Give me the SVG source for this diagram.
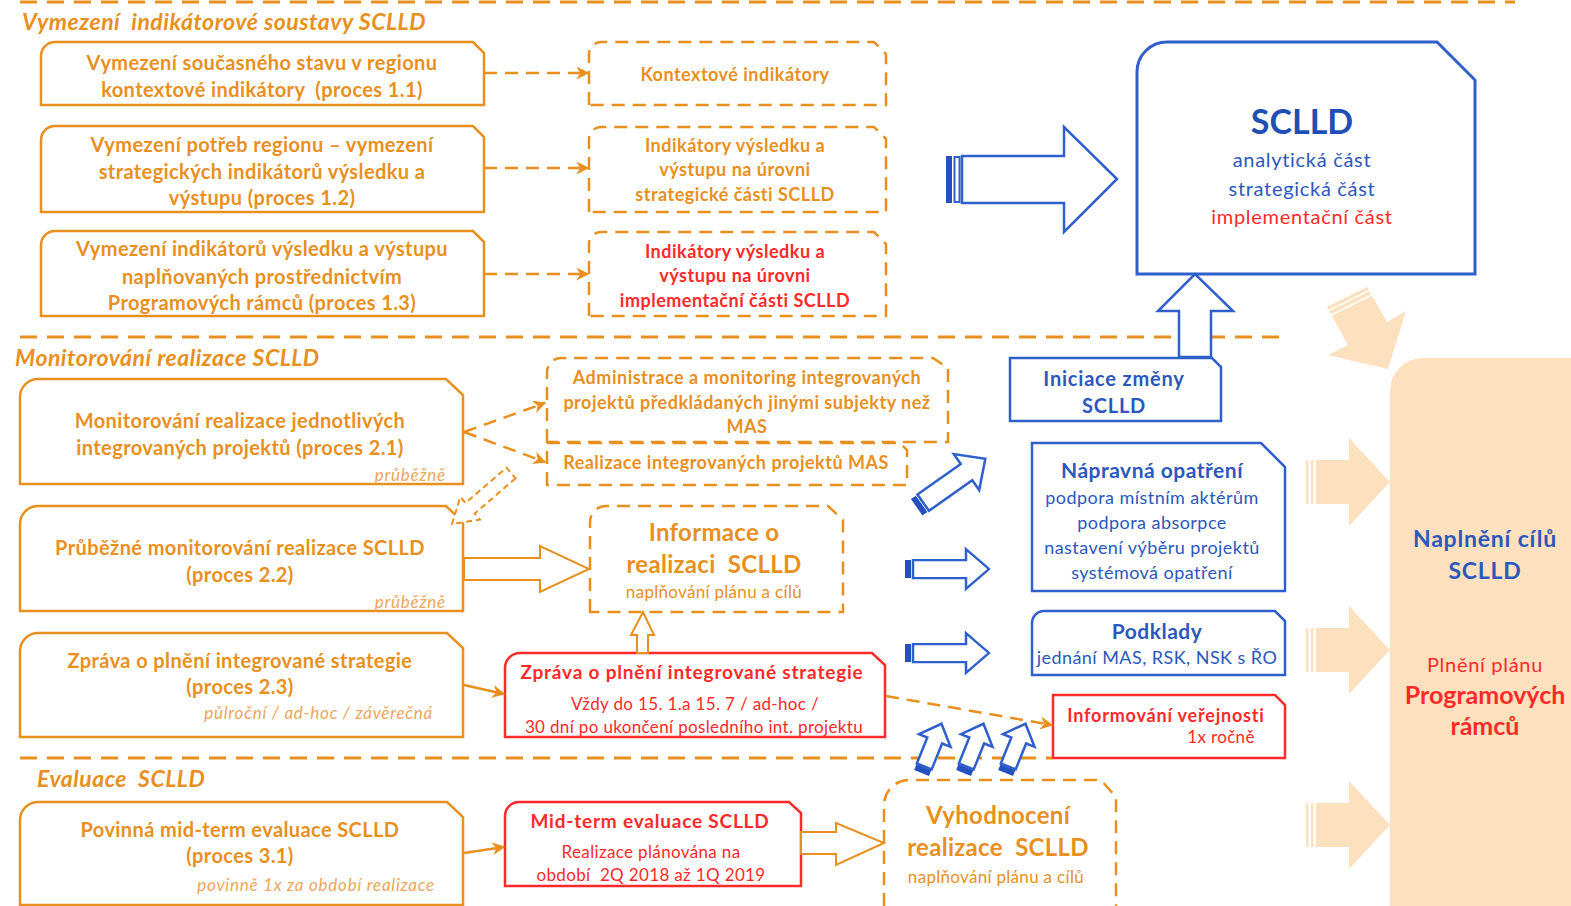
<svg xmlns="http://www.w3.org/2000/svg" width="1571" height="906" viewBox="0 0 1571 906">
<style>
text{font-family:Lato,"Liberation Sans",sans-serif;white-space:pre}
.bo{fill:none;stroke:#E8901F;stroke-width:2.5}
.bd{fill:none;stroke:#E8901F;stroke-width:2.5;stroke-dasharray:13 8}
.bb{fill:#fff;stroke:#2F5FCB;stroke-width:2.5}
.br{fill:#fff;stroke:#FF2A2A;stroke-width:2.5}
.sep{stroke:#E8901F;stroke-width:3;stroke-dasharray:17 10;fill:none}
.sec{font-size:23px;font-weight:bold;font-style:italic;fill:#E8901F;letter-spacing:0.5px}
.ob{font-size:20px;font-weight:bold;fill:#E8901F;text-anchor:middle;letter-spacing:0.4px}
.od{font-size:18px;font-weight:bold;fill:#E8901F;text-anchor:middle;letter-spacing:0.5px}
.rd{font-size:18px;font-weight:bold;fill:#FF2A2A;text-anchor:middle;letter-spacing:0.5px}
.it{font-size:17px;font-style:italic;fill:#EDA65E;text-anchor:end;letter-spacing:0.75px}
.big{font-size:24px;font-weight:bold;fill:#E8901F;text-anchor:middle;letter-spacing:0.3px}
.on{font-size:17px;fill:#E8901F;text-anchor:middle;letter-spacing:0.3px}
.rb{font-size:19px;font-weight:bold;fill:#FF2A2A;text-anchor:middle;letter-spacing:0.8px}
.rn{font-size:17px;fill:#FF2A2A;text-anchor:middle;letter-spacing:0.35px}
.ub{font-size:21px;font-weight:bold;fill:#2B58BD;text-anchor:middle;letter-spacing:0.5px}
.un{font-size:18px;fill:#2B58BD;text-anchor:middle;letter-spacing:0.45px}
.con{stroke:#E8901F;stroke-width:2.5;fill:none;marker-end:url(#ah)}
.dash{stroke-dasharray:13 8}
.ha{fill:#fff;stroke:#E8901F;stroke-width:2}
.ba{fill:#fff;stroke:#2F5FCB;stroke-width:2.5}
.bar{fill:#2450C0}
.pe{fill:#FDE1BF}
</style>
<defs>
<marker id="ah" viewBox="0 0 10 10" refX="9" refY="5" markerWidth="13" markerHeight="13" markerUnits="userSpaceOnUse" orient="auto">
<path d="M0,0 L10,5 L0,10 L3,5 Z" fill="#E8901F"/>
</marker>
<g id="bluearrow">
<rect class="bar" x="-1" y="-10" width="6" height="20"/>
<polygon class="ba" points="7,-10 60,-10 60,-22 83,0 60,22 60,10 7,10"/>
</g>
<g id="smallarrow">
<rect class="bar" x="-1" y="-8" width="6" height="16"/>
<polygon class="ba" points="6,-8 34,-8 34,-17 52,0 34,17 34,8 6,8"/>
</g>
<g id="peacharrow">
<rect class="pe" x="0" y="-22" width="2.5" height="44"/>
<rect class="pe" x="5" y="-22" width="2.5" height="44"/>
<polygon class="pe" points="10,-22 43,-22 43,-44 84,0 43,44 43,22 10,22"/>
</g>
</defs>

<!-- right panel and peach arrows -->
<g id="panel">
<path class="pe" d="M1390,906 V391 A33,33 0 0 1 1423,358 H1571 V906 Z"/>
<text class="ub" x="1485" y="547" style="font-size:23px;letter-spacing:0.8px">Naplnění cílů</text>
<text class="ub" x="1485" y="579" style="font-size:23px;letter-spacing:0.8px">SCLLD</text>
<text x="1485" y="672" style="font-size:20px;fill:#FF2A2A;text-anchor:middle;letter-spacing:0.7px">Plnění plánu</text>
<text x="1485" y="704" style="font-size:25px;font-weight:bold;fill:#FF2A2A;text-anchor:middle">Programových</text>
<text x="1485" y="735" style="font-size:25px;font-weight:bold;fill:#FF2A2A;text-anchor:middle">rámců</text>
</g>
<g id="peach-arrows">
<polygon class="pe" points="1348,345 1328,355 1388,369 1406,311 1387,322 1367,287 1327,307"/>
<line x1="1329" y1="310.5" x2="1369" y2="290.5" stroke="#fff" stroke-width="1.5"/>
<line x1="1331.5" y1="315" x2="1371.5" y2="295" stroke="#fff" stroke-width="1.5"/>
<use href="#peacharrow" transform="translate(1306,482)"/>
<use href="#peacharrow" transform="translate(1306,650)"/>
<use href="#peacharrow" transform="translate(1306,825)"/>
</g>

<!-- section separators -->
<g id="separators">
<line class="sep" x1="20" y1="2" x2="1515" y2="2"/>
<line class="sep" x1="20" y1="337" x2="1286" y2="337"/>
<line class="sep" x1="20" y1="758" x2="1052" y2="758"/>
</g>

<g id="titles">
<text class="sec" x="22" y="30">Vymezení  indikátorové soustavy SCLLD</text>
<text class="sec" x="15" y="366">Monitorování realizace SCLLD</text>
<text class="sec" x="37" y="787">Evaluace  SCLLD</text>
</g>

<!-- section 1 -->
<g id="p11">
<path class="bo" d="M41,105 V56 A14,14 0 0 1 55,42 H473 L484,53 V105 Z"/>
<text class="ob" x="262" y="70">Vymezení současného stavu v regionu</text>
<text class="ob" x="262" y="97">kontextové indikátory  (proces 1.1)</text>
</g>
<g id="p12">
<path class="bo" d="M41,212 V140 A14,14 0 0 1 55,126 H473 L484,137 V212 Z"/>
<text class="ob" x="262" y="152">Vymezení potřeb regionu – vymezení</text>
<text class="ob" x="262" y="179">strategických indikátorů výsledku a</text>
<text class="ob" x="262" y="205">výstupu (proces 1.2)</text>
</g>
<g id="p13">
<path class="bo" d="M41,316 V245 A14,14 0 0 1 55,231 H473 L484,242 V316 Z"/>
<text class="ob" x="262" y="256">Vymezení indikátorů výsledku a výstupu</text>
<text class="ob" x="262" y="284">naplňovaných prostřednictvím</text>
<text class="ob" x="262" y="310">Programových rámců (proces 1.3)</text>
</g>
<g id="kontext">
<path class="bd" d="M589,105 V54 A12,12 0 0 1 601,42 H874 L886,54 V105 Z"/>
<text class="od" x="735" y="81">Kontextové indikátory</text>
</g>
<g id="indstrat">
<path class="bd" d="M589,212 V139 A12,12 0 0 1 601,127 H874 L886,139 V212 Z"/>
<text class="od" x="735" y="152">Indikátory výsledku a</text>
<text class="od" x="735" y="176">výstupu na úrovni</text>
<text class="od" x="735" y="201">strategické části SCLLD</text>
</g>
<g id="indimpl">
<path class="bd" d="M589,316 V244 A12,12 0 0 1 601,232 H874 L886,244 V316 Z"/>
<text class="rd" x="735" y="258">Indikátory výsledku a</text>
<text class="rd" x="735" y="282">výstupu na úrovni</text>
<text class="rd" x="735" y="307">implementační části SCLLD</text>
</g>

<!-- SCLLD -->
<g id="bigarrow">
<rect class="bar" x="946" y="156" width="6" height="47"/>
<rect x="954.5" y="157" width="5" height="45" fill="#fff" stroke="#2F5FCB" stroke-width="2"/>
<polygon class="ba" points="962,156 1064,156 1064,127 1117,179 1064,232 1064,203 962,203"/>
</g>
<g id="sclld">
<path d="M1137,274 V72 A30,30 0 0 1 1167,42 H1437 L1475,80 V274 Z" fill="#fff" stroke="#2F5FCB" stroke-width="3"/>
<text x="1302" y="134" style="font-size:34px;font-weight:bold;fill:#1F4FB5;text-anchor:middle">SCLLD</text>
<text class="un" x="1302" y="167" style="font-size:20px;letter-spacing:0.7px">analytická část</text>
<text class="un" x="1302" y="196" style="font-size:20px;letter-spacing:0.7px">strategická část</text>
<text x="1302" y="224" style="font-size:20px;fill:#FF2A2A;text-anchor:middle;letter-spacing:0.7px">implementační část</text>
</g>
<g id="uparrow">
<polygon class="ba" points="1179,357 1179,311 1158,311 1195,274 1233,311 1211,311 1211,357"/>
</g>
<g id="iniciace">
<path class="bb" d="M1010,421 V358 H1212 L1221,367 V421 Z"/>
<text class="ub" x="1114" y="386" style="font-size:20px;letter-spacing:0.8px">Iniciace změny</text>
<text class="ub" x="1114" y="413" style="font-size:20px;letter-spacing:0.8px">SCLLD</text>
</g>

<!-- section 2 -->
<g id="p21">
<path class="bo" d="M20,484 V397 A18,18 0 0 1 38,379 H446 L463,395 V484 Z"/>
<text class="ob" x="240" y="428">Monitorování realizace jednotlivých</text>
<text class="ob" x="240" y="455">integrovaných projektů (proces 2.1)</text>
<text class="it" x="446" y="481">průběžně</text>
</g>
<g id="p22">
<path class="bo" d="M20,611 V524 A18,18 0 0 1 38,506 H446 L463,522 V611 Z"/>
<text class="ob" x="240" y="555">Průběžné monitorování realizace SCLLD</text>
<text class="ob" x="240" y="582">(proces 2.2)</text>
<text class="it" x="446" y="608">průběžně</text>
</g>
<g id="p23">
<path class="bo" d="M20,737 V651 A18,18 0 0 1 38,633 H447 L463,648 V737 Z"/>
<text class="ob" x="240" y="668">Zpráva o plnění integrované strategie</text>
<text class="ob" x="240" y="694">(proces 2.3)</text>
<text class="it" x="433" y="719">půlroční / ad-hoc / závěrečná</text>
</g>
<g id="admin">
<path class="bd" d="M547,442 V372 A14,14 0 0 1 561,358 H933 L948,368 V442 Z"/>
<text class="od" x="747" y="384">Administrace a monitoring integrovaných</text>
<text class="od" x="747" y="409">projektů předkládaných jinými subjekty než</text>
<text class="od" x="747" y="433">MAS</text>
</g>
<g id="realizace">
<path class="bd" d="M547,485 V443 H900 L907,450 V485 Z"/>
<text class="od" x="726" y="469">Realizace integrovaných projektů MAS</text>
</g>
<g id="informace">
<path class="bd" d="M590,612 V522 A16,16 0 0 1 606,506 H828 L843,520 V612 Z"/>
<text class="big" x="714" y="541">Informace o</text>
<text class="big" x="714" y="573">realizaci  SCLLD</text>
<text class="on" x="714" y="598">naplňování plánu a cílů</text>
</g>
<g id="zprava">
<path class="br" d="M505,737 V668 A15,15 0 0 1 520,653 H872 L885,665 V737 Z"/>
<text class="rb" x="692" y="679">Zpráva o plnění integrované strategie</text>
<text class="rn" x="695" y="710">Vždy do 15. 1.a 15. 7 / ad-hoc /</text>
<text class="rn" x="694" y="733">30 dní po ukončení posledního int. projektu</text>
</g>
<g id="napravna">
<path class="bb" d="M1032,591 V443 H1261 L1285,467 V591 Z"/>
<text class="ub" x="1152" y="478">Nápravná opatření</text>
<text class="un" x="1152" y="504">podpora místním aktérům</text>
<text class="un" x="1152" y="529">podpora absorpce</text>
<text class="un" x="1152" y="554">nastavení výběru projektů</text>
<text class="un" x="1152" y="579">systémová opatření</text>
</g>
<g id="podklady">
<path class="bb" d="M1032,675 V623 A12,12 0 0 1 1044,611 H1275 L1285,621 V675 Z"/>
<text class="ub" x="1157" y="639">Podklady</text>
<text class="un" x="1157" y="664">jednání MAS, RSK, NSK s ŘO</text>
</g>
<g id="informovani">
<path class="br" d="M1053,758 V695 H1275 L1285,705 V758 Z"/>
<text class="rd" x="1166" y="722" style="letter-spacing:0.8px">Informování veřejnosti</text>
<text class="rn" x="1221" y="743">1x ročně</text>
</g>

<!-- section 3 -->
<g id="p31">
<path class="bo" d="M20,905 V820 A18,18 0 0 1 38,802 H447 L463,817 V905 Z"/>
<text class="ob" x="240" y="837">Povinná mid-term evaluace SCLLD</text>
<text class="ob" x="240" y="863">(proces 3.1)</text>
<text class="it" x="435" y="891">povinně 1x za období realizace</text>
</g>
<g id="midterm">
<path class="br" d="M505,886 V816 A14,14 0 0 1 519,802 H789 L801,813 V886 Z"/>
<text class="rb" x="650" y="828">Mid-term evaluace SCLLD</text>
<text class="rn" x="651" y="858">Realizace plánována na</text>
<text class="rn" x="651" y="881">období  2Q 2018 až 1Q 2019</text>
</g>
<g id="vyhodnoceni">
<path class="bd" d="M884,906 V805 A25,25 0 0 1 909,780 H1101 L1116,797 V906"/>
<text class="big" x="998" y="824">Vyhodnocení</text>
<text class="big" x="998" y="856">realizace  SCLLD</text>
<text class="on" x="996" y="883">naplňování plánu a cílů</text>
</g>

<!-- connectors -->
<g id="connectors">
<line class="con dash" x1="484" y1="73" x2="588" y2="73"/>
<line class="con dash" x1="484" y1="168" x2="588" y2="168"/>
<line class="con dash" x1="484" y1="274" x2="588" y2="274"/>
<line class="con dash" x1="464" y1="432" x2="545" y2="403"/>
<line class="con dash" x1="464" y1="432" x2="545" y2="462"/>
<line class="con" x1="464" y1="685" x2="504" y2="694"/>
<line class="con" x1="464" y1="853" x2="504" y2="847"/>
<line class="con dash" x1="886" y1="696" x2="1052" y2="725"/>
<polygon class="ha" stroke-dasharray="6 4" transform="translate(511,473) rotate(139.2)" points="0,-7 54,-7 54,-15 78,0 54,15 54,7 0,7"/>
<polygon class="ha" points="464,558 540,558 540,546 589,569 540,592 540,580 464,580"/>
<polygon class="ha" points="801,832 836,832 836,823 884,843 836,865 836,854 801,854"/>
<polygon class="ha" points="637,653 637,635 631,635 643,612 654,635 648,635 648,653"/>
<use href="#bluearrow" transform="translate(917.5,506.7) rotate(-35.2)"/>
<use href="#bluearrow" transform="translate(906,569) scale(1,0.9)"/>
<use href="#bluearrow" transform="translate(906,653) scale(1,0.9)"/>
<use href="#smallarrow" transform="translate(922,772) rotate(-68)"/>
<use href="#smallarrow" transform="translate(964,772) rotate(-68)"/>
<use href="#smallarrow" transform="translate(1006,772) rotate(-68)"/>
</g>
</svg>
